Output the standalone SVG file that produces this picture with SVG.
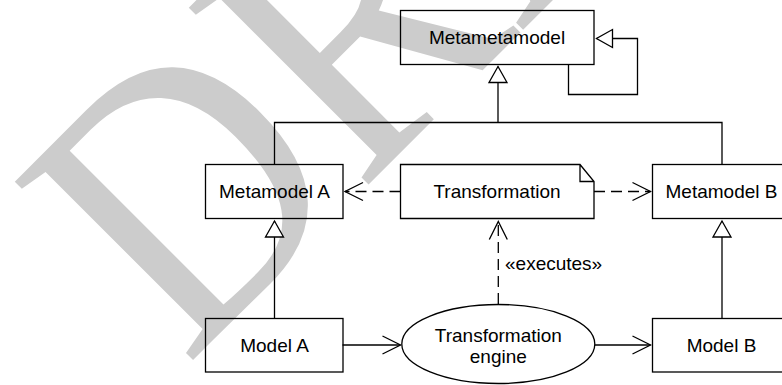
<svg xmlns="http://www.w3.org/2000/svg" width="782" height="385" viewBox="0 0 782 385">
<style>
.wm{font-family:"Liberation Serif","Times New Roman",serif;font-size:385px;fill:#cccccc}
.shape{fill:none;stroke:#000;stroke-width:1.3}
.lbl{font-family:"Liberation Sans",Arial,sans-serif;font-size:19px;text-anchor:middle;fill:#000}
.line{fill:none;stroke:#000;stroke-width:1.3}
.dash{stroke-dasharray:11,6}
</style>
<defs>
<marker id="tri" markerUnits="userSpaceOnUse" markerWidth="20" markerHeight="22" viewBox="0 0 20 22" refX="17" refY="11" orient="auto">
<path d="M1,2 L17,11 L1,20 Z" fill="#fff" stroke="#000" stroke-width="1.3"/>
</marker>
<marker id="open" markerUnits="userSpaceOnUse" markerWidth="22" markerHeight="22" viewBox="0 0 22 22" refX="19" refY="11" orient="auto">
<path d="M1,2 L19,11 L1,20" fill="none" stroke="#000" stroke-width="1.3"/>
</marker>
</defs>
<text class="wm" transform="translate(186.1,366.9) rotate(-45) scale(0.885,1)">DRAFT</text>
<g id="connectors">
<path class="line" d="M568.5,64.5 V94.5 H637.5 V38.5 H596.5" marker-end="url(#tri)"/>
<path class="line" d="M274.5,164.5 V122.5 H722 V164.5"/>
<path class="line" d="M498,122.5 V66.5" marker-end="url(#tri)"/>
<path class="line" d="M274.5,318.5 V221" marker-end="url(#tri)"/>
<path class="line" d="M722,318.5 V221" marker-end="url(#tri)"/>
<path class="line dash" d="M400.5,191.5 H345" marker-end="url(#open)"/>
<path class="line dash" d="M594,191.5 H650.5" marker-end="url(#open)"/>
<path class="line dash" d="M498.3,304 V221.5" marker-end="url(#open)"/>
<text class="lbl" x="505" y="270" style="text-anchor:start">«executes»</text>
<path class="line" d="M342.5,345 H400.5" marker-end="url(#open)"/>
<path class="line" d="M595,345 H650.5" marker-end="url(#open)"/>
</g>
<g id="metametamodel">
<rect class="shape" x="400.5" y="10.5" width="193.5" height="54"/>
<text class="lbl" x="497" y="44.3">Metametamodel</text>
</g>
<g id="metamodel-a">
<rect class="shape" x="205.5" y="164.5" width="137.5" height="54"/>
<text class="lbl" x="274.5" y="198.3">Metamodel A</text>
</g>
<g id="transformation">
<path class="shape" d="M400.5,164.5 H580 L594,181.5 V218.5 H400.5 Z M580,164.5 V181.5 H594"/>
<text class="lbl" x="497" y="198.3">Transformation</text>
</g>
<g id="metamodel-b">
<rect class="shape" x="652.5" y="164.5" width="140" height="54"/>
<text class="lbl" x="721.5" y="198.3">Metamodel B</text>
</g>
<g id="model-a">
<rect class="shape" x="205.5" y="318.5" width="137.5" height="53.5"/>
<text class="lbl" x="274.5" y="352">Model A</text>
</g>
<g id="transformation-engine">
<ellipse class="shape" cx="498.3" cy="344" rx="96.5" ry="39.5"/>
<text class="lbl" x="498.3" y="341.7">Transformation</text>
<text class="lbl" x="498.3" y="363.3">engine</text>
</g>
<g id="model-b">
<rect class="shape" x="652.5" y="318.5" width="140" height="53.5"/>
<text class="lbl" x="721.5" y="352">Model B</text>
</g>
</svg>
